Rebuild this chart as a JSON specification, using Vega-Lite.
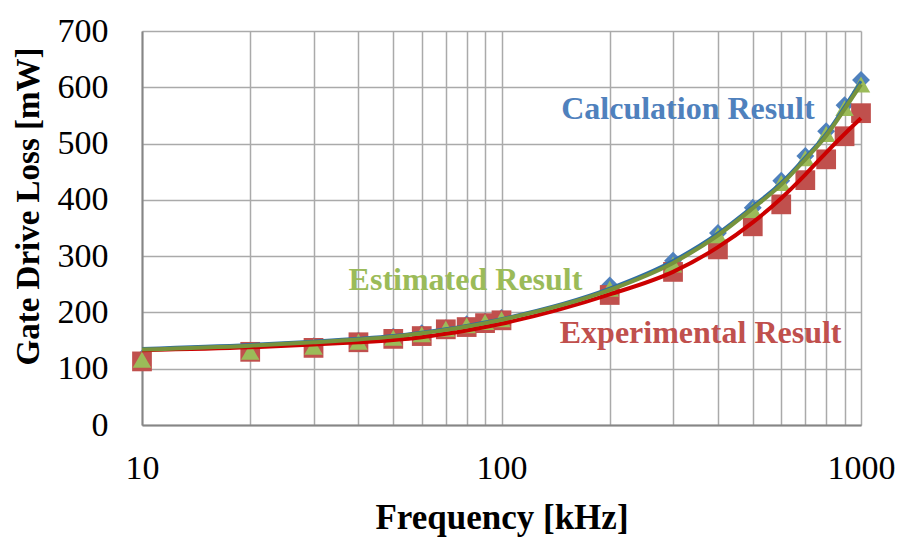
{
  "$schema": "https://vega.github.io/schema/vega-lite/v6.json",
  "width": 719,
  "height": 394,
  "autosize": "none",
  "padding": {"left": 142, "top": 31, "right": 43, "bottom": 113},
  "background": "white",
  "config": {
    "view": {"stroke": null},
    "font": "Liberation Serif",
    "axis": {"labelFont": "Liberation Serif", "titleFont": "Liberation Serif"}
  },
  "datasets": {
    "pts": [
      {"freq": 10, "series": "Calculation", "loss": 118},
      {"freq": 20, "series": "Calculation", "loss": 132},
      {"freq": 30, "series": "Calculation", "loss": 140},
      {"freq": 40, "series": "Calculation", "loss": 150},
      {"freq": 50, "series": "Calculation", "loss": 157},
      {"freq": 60, "series": "Calculation", "loss": 163},
      {"freq": 70, "series": "Calculation", "loss": 172},
      {"freq": 80, "series": "Calculation", "loss": 179},
      {"freq": 90, "series": "Calculation", "loss": 184},
      {"freq": 100, "series": "Calculation", "loss": 190},
      {"freq": 200, "series": "Calculation", "loss": 248},
      {"freq": 300, "series": "Calculation", "loss": 292},
      {"freq": 400, "series": "Calculation", "loss": 341},
      {"freq": 500, "series": "Calculation", "loss": 386},
      {"freq": 600, "series": "Calculation", "loss": 434},
      {"freq": 700, "series": "Calculation", "loss": 478},
      {"freq": 800, "series": "Calculation", "loss": 522},
      {"freq": 900, "series": "Calculation", "loss": 568},
      {"freq": 1000, "series": "Calculation", "loss": 613},
      {"freq": 10, "series": "Experimental", "loss": 113},
      {"freq": 20, "series": "Experimental", "loss": 130},
      {"freq": 30, "series": "Experimental", "loss": 137},
      {"freq": 40, "series": "Experimental", "loss": 147},
      {"freq": 50, "series": "Experimental", "loss": 153},
      {"freq": 60, "series": "Experimental", "loss": 158},
      {"freq": 70, "series": "Experimental", "loss": 170},
      {"freq": 80, "series": "Experimental", "loss": 174},
      {"freq": 90, "series": "Experimental", "loss": 181},
      {"freq": 100, "series": "Experimental", "loss": 186},
      {"freq": 200, "series": "Experimental", "loss": 231},
      {"freq": 300, "series": "Experimental", "loss": 272},
      {"freq": 400, "series": "Experimental", "loss": 312},
      {"freq": 500, "series": "Experimental", "loss": 353},
      {"freq": 600, "series": "Experimental", "loss": 392},
      {"freq": 700, "series": "Experimental", "loss": 435},
      {"freq": 800, "series": "Experimental", "loss": 472},
      {"freq": 900, "series": "Experimental", "loss": 513},
      {"freq": 1000, "series": "Experimental", "loss": 554},
      {"freq": 10, "series": "Estimated", "loss": 116},
      {"freq": 20, "series": "Estimated", "loss": 130},
      {"freq": 30, "series": "Estimated", "loss": 139},
      {"freq": 40, "series": "Estimated", "loss": 148},
      {"freq": 50, "series": "Estimated", "loss": 155},
      {"freq": 60, "series": "Estimated", "loss": 161},
      {"freq": 70, "series": "Estimated", "loss": 171},
      {"freq": 80, "series": "Estimated", "loss": 177},
      {"freq": 90, "series": "Estimated", "loss": 183},
      {"freq": 100, "series": "Estimated", "loss": 188},
      {"freq": 200, "series": "Estimated", "loss": 242},
      {"freq": 300, "series": "Estimated", "loss": 285},
      {"freq": 400, "series": "Estimated", "loss": 337},
      {"freq": 500, "series": "Estimated", "loss": 382},
      {"freq": 600, "series": "Estimated", "loss": 430},
      {"freq": 700, "series": "Estimated", "loss": 474},
      {"freq": 800, "series": "Estimated", "loss": 517},
      {"freq": 900, "series": "Estimated", "loss": 563},
      {"freq": 1000, "series": "Estimated", "loss": 605}
    ],
    "fits": [
      {"freq": 10, "series": "Calculation", "loss": 136},
      {"freq": 20, "series": "Calculation", "loss": 143},
      {"freq": 30, "series": "Calculation", "loss": 149},
      {"freq": 40, "series": "Calculation", "loss": 154},
      {"freq": 50, "series": "Calculation", "loss": 159},
      {"freq": 60, "series": "Calculation", "loss": 165},
      {"freq": 70, "series": "Calculation", "loss": 171},
      {"freq": 80, "series": "Calculation", "loss": 177},
      {"freq": 90, "series": "Calculation", "loss": 183},
      {"freq": 100, "series": "Calculation", "loss": 189},
      {"freq": 200, "series": "Calculation", "loss": 243},
      {"freq": 300, "series": "Calculation", "loss": 292},
      {"freq": 400, "series": "Calculation", "loss": 341},
      {"freq": 500, "series": "Calculation", "loss": 389},
      {"freq": 600, "series": "Calculation", "loss": 431},
      {"freq": 700, "series": "Calculation", "loss": 476},
      {"freq": 800, "series": "Calculation", "loss": 518},
      {"freq": 900, "series": "Calculation", "loss": 566},
      {"freq": 1000, "series": "Calculation", "loss": 611},
      {"freq": 10, "series": "Experimental", "loss": 133},
      {"freq": 20, "series": "Experimental", "loss": 138},
      {"freq": 30, "series": "Experimental", "loss": 143},
      {"freq": 40, "series": "Experimental", "loss": 147},
      {"freq": 50, "series": "Experimental", "loss": 151},
      {"freq": 60, "series": "Experimental", "loss": 156},
      {"freq": 70, "series": "Experimental", "loss": 162},
      {"freq": 80, "series": "Experimental", "loss": 168},
      {"freq": 90, "series": "Experimental", "loss": 174},
      {"freq": 100, "series": "Experimental", "loss": 180},
      {"freq": 200, "series": "Experimental", "loss": 232},
      {"freq": 300, "series": "Experimental", "loss": 272},
      {"freq": 400, "series": "Experimental", "loss": 316},
      {"freq": 500, "series": "Experimental", "loss": 360},
      {"freq": 600, "series": "Experimental", "loss": 403},
      {"freq": 700, "series": "Experimental", "loss": 445},
      {"freq": 800, "series": "Experimental", "loss": 484},
      {"freq": 900, "series": "Experimental", "loss": 517},
      {"freq": 1000, "series": "Experimental", "loss": 545},
      {"freq": 10, "series": "Estimated", "loss": 134},
      {"freq": 20, "series": "Estimated", "loss": 141},
      {"freq": 30, "series": "Estimated", "loss": 147},
      {"freq": 40, "series": "Estimated", "loss": 152},
      {"freq": 50, "series": "Estimated", "loss": 157},
      {"freq": 60, "series": "Estimated", "loss": 163},
      {"freq": 70, "series": "Estimated", "loss": 169},
      {"freq": 80, "series": "Estimated", "loss": 175},
      {"freq": 90, "series": "Estimated", "loss": 181},
      {"freq": 100, "series": "Estimated", "loss": 187},
      {"freq": 200, "series": "Estimated", "loss": 240},
      {"freq": 300, "series": "Estimated", "loss": 288},
      {"freq": 400, "series": "Estimated", "loss": 337},
      {"freq": 500, "series": "Estimated", "loss": 385},
      {"freq": 600, "series": "Estimated", "loss": 427},
      {"freq": 700, "series": "Estimated", "loss": 472},
      {"freq": 800, "series": "Estimated", "loss": 514},
      {"freq": 900, "series": "Estimated", "loss": 561},
      {"freq": 1000, "series": "Estimated", "loss": 605}
    ],
    "labels": [
      {"freq": 330, "loss": 561, "text": "Calculation Result", "series": "Calculation"},
      {"freq": 79.4, "loss": 257, "text": "Estimated Result", "series": "Estimated"},
      {"freq": 358, "loss": 163, "text": "Experimental Result", "series": "Experimental"}
    ]
  },
  "encoding": {
    "x": {
      "field": "freq", "type": "quantitative",
      "scale": {"type": "log", "domain": [10, 1000], "nice": false},
      "axis": {
        "title": "Frequency [kHz]",
        "values": [10, 20, 30, 40, 50, 60, 70, 80, 90, 100, 200, 300, 400, 500, 600, 700, 800, 900, 1000],
        "format": "d",
        "labelExpr": "datum.value == 10 || datum.value == 100 || datum.value == 1000 ? datum.label : ''",
        "labelFontSize": 34, "labelColor": "black", "labelPadding": 26,
        "labelOverlap": false, "labelFlush": false,
        "ticks": false, "domainColor": "#868686", "domainWidth": 2,
        "grid": true, "gridColor": "#AAAAAA", "gridWidth": 1.5,
        "titleFontSize": 35, "titleFontWeight": "bold", "titleColor": "black", "titlePadding": 15
      }
    },
    "y": {
      "field": "loss", "type": "quantitative",
      "scale": {"domain": [0, 700], "nice": false},
      "axis": {
        "title": "Gate Drive Loss [mW]",
        "values": [0, 100, 200, 300, 400, 500, 600, 700],
        "labelFontSize": 34, "labelColor": "black", "labelPadding": 34,
        "ticks": false, "domainColor": "#868686", "domainWidth": 2,
        "grid": true, "gridColor": "#AAAAAA", "gridWidth": 1.5,
        "titleFontSize": 33, "titleFontWeight": "bold", "titleColor": "black",
        "titleX": -114, "titleY": 175, "titleBaseline": "middle", "titleAlign": "center", "titleAngle": 270
      }
    }
  },
  "layer": [
    {
      "data": {"name": "pts"},
      "transform": [{"filter": "datum.series == 'Calculation'"}],
      "mark": {"type": "point", "shape": "diamond", "filled": true, "size": 320, "opacity": 1, "color": "#4F81BD"},
      "encoding": {}
    },
    {
      "data": {"name": "pts"},
      "transform": [{"filter": "datum.series == 'Experimental'"}],
      "mark": {"type": "point", "shape": "square", "filled": true, "size": 390, "opacity": 1, "color": "#C0504D"},
      "encoding": {}
    },
    {
      "data": {"name": "pts"},
      "transform": [{"filter": "datum.series == 'Estimated'"}],
      "mark": {"type": "point", "shape": "triangle-up", "filled": true, "size": 340, "opacity": 1, "color": "#9BBB59"},
      "encoding": {}
    },
    {
      "data": {"name": "fits"},
      "transform": [{"filter": "datum.series == 'Calculation'"}],
      "mark": {"type": "line", "interpolate": "monotone", "strokeWidth": 3, "color": "#2E6DA4"},
      "encoding": {}
    },
    {
      "data": {"name": "fits"},
      "transform": [{"filter": "datum.series == 'Experimental'"}],
      "mark": {"type": "line", "interpolate": "monotone", "strokeWidth": 4, "color": "#CC0000"},
      "encoding": {}
    },
    {
      "data": {"name": "fits"},
      "transform": [{"filter": "datum.series == 'Estimated'"}],
      "mark": {"type": "line", "interpolate": "monotone", "strokeWidth": 4, "color": "#77933C"},
      "encoding": {}
    },
    {
      "data": {"name": "labels"},
      "mark": {"type": "text", "font": "Liberation Serif", "fontSize": 32, "fontWeight": "bold", "align": "center", "baseline": "middle"},
      "encoding": {
        "text": {"field": "text"},
        "color": {
          "field": "series", "type": "nominal",
          "scale": {"domain": ["Calculation", "Estimated", "Experimental"], "range": ["#4F81BD", "#9BBB59", "#C0504D"]},
          "legend": null
        }
      }
    }
  ]
}
